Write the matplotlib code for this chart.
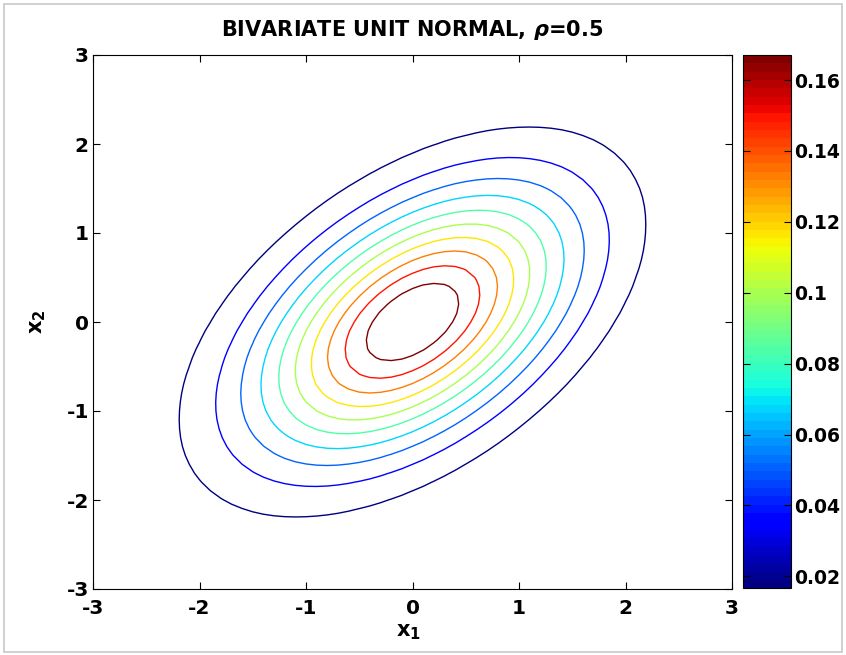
import numpy as np
import matplotlib.pyplot as plt
import matplotlib as mpl
from matplotlib.patches import Rectangle

plt.rcParams['font.family'] = ['DejaVu Sans']
plt.rcParams['font.weight'] = 'bold'
plt.rcParams['axes.unicode_minus'] = False
plt.rcParams['mathtext.fontset'] = 'dejavusans'

# correlation and grid of the surface
rho = 0.5
x1 = np.arange(-3, 3.0001, 0.1)
x2 = np.arange(-3, 3.0001, 0.1)

# contour levels (matlab auto levels)
levels = [0.01671, 0.03341, 0.05012, 0.06683, 0.08354,
          0.10024, 0.11695, 0.13366, 0.15037, 0.16707]

ticks_xy = [-3, -2, -1, 0, 1, 2, 3]
cbar_ticks = [0.02, 0.04, 0.06, 0.08, 0.1, 0.12, 0.14, 0.16]
cbar_labels = ['0.02', '0.04', '0.06', '0.08', '0.1', '0.12', '0.14', '0.16']

X1, X2 = np.meshgrid(x1, x2)
q = (X1**2 - 2*rho*X1*X2 + X2**2) / (1 - rho**2)
Z = np.exp(-q/2) / (2*np.pi*np.sqrt(1 - rho**2))

W, H = 846, 655
fig = plt.figure(figsize=(W/100, H/100), dpi=100)
fig.patches.append(Rectangle((4/W, 3/H), 838/W, 648/H, transform=fig.transFigure,
                             fill=False, edgecolor='#c8c8c8', lw=1.2))

ax = fig.add_axes([93/W, 1 - 589/H, (732-93)/W, (589-55)/H])
cmap = mpl.colormaps['jet'].resampled(64)
norm = mpl.colors.Normalize(vmin=levels[0], vmax=levels[-1])
ax.contour(X1, X2, Z, levels=levels, cmap=cmap, norm=norm, linewidths=1.0)

ax.set_xlim(-3, 3)
ax.set_ylim(-3, 3)
ax.set_xticks(ticks_xy)
ax.set_yticks(ticks_xy)
ax.tick_params(direction='in', top=True, right=True, length=5, width=0.8,
               labelsize=14.5)
ax.tick_params(axis='x', pad=7)
ax.tick_params(axis='y', pad=3)
for s in ax.spines.values():
    s.set_linewidth(0.8)
ax.set_title(r'BIVARIATE UNIT NORMAL, $\rho$=0.5', fontsize=15, fontweight='bold', pad=14)
ax.set_xlabel(r'$\mathbf{x_1}$', fontsize=15)
ax.set_ylabel(r'$\mathbf{x_2}$', fontsize=15)
ax.xaxis.set_label_coords(0.5 - 4/639, (589-622)/534)
ax.yaxis.set_label_coords((48-93)/639, 0.5)

cax = fig.add_axes([743/W, 1 - 588/H, 48/W, (588-55)/H])
sm = mpl.cm.ScalarMappable(norm=norm, cmap=cmap)
cb = fig.colorbar(sm, cax=cax)
cb.set_ticks(cbar_ticks)
cb.set_ticklabels(cbar_labels)
cax.tick_params(direction='in', left=True, right=True, length=5, width=0.8,
                labelsize=13.5, pad=2)
cb.outline.set_linewidth(0.8)

fig.savefig('out.png', dpi=100)
